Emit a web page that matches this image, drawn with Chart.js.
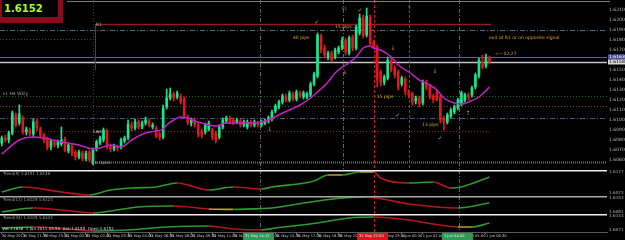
<!DOCTYPE html>
<html>
<head>
<meta charset="utf-8">
<title>GBPUSD M15</title>
<script src="https://cdn.jsdelivr.net/npm/chart.js@4.4.1/dist/chart.umd.min.js"></script>
<style>
  html, body { margin: 0; padding: 0; background: #000; }
  body { position: relative; width: 625px; height: 240px; overflow: hidden; }
  canvas { position: absolute; left: 0; }
  #quote { position: absolute; left: 0; top: 0; width: 63px; height: 23px; background: #8c0a1e; }
  #quote div { position: absolute; left: 2px; top: 0; width: 56px; height: 17px; background: #000;
               color: #a6ff1c; font: bold 10px "DejaVu Sans", sans-serif; line-height: 17px;
               padding-left: 2px; box-sizing: border-box; }
</style>
</head>
<body>
<canvas id="main" width="625" height="170" style="top:0"></canvas>
<canvas id="ind1" width="625" height="26" style="top:170px"></canvas>
<canvas id="ind2" width="625" height="18" style="top:196px"></canvas>
<canvas id="ind3" width="625" height="26" style="top:214px"></canvas>
<div id="quote"><div>1.6152</div></div>
<script>
// velas M15
const openP = [1.6077,1.6082,1.6080,1.6087,1.6105,1.6097,1.6102,1.6088,1.6090,1.6086,
  1.6099,1.6091,1.6085,1.6081,1.6073,1.6078,1.6075,1.6076,1.6081,1.6069,
  1.6074,1.6068,1.6063,1.6067,1.6061,1.6068,1.6059,1.6071,1.6077,1.6080,
  1.6089,1.6074,1.6071,1.6073,1.6073,1.6079,1.6082,1.6095,1.6092,1.6098,
  1.6093,1.6097,1.6099,1.6093,1.6092,1.6086,1.6083,1.6113,1.6122,1.6126,
  1.6123,1.6124,1.6121,1.6103,1.6097,1.6100,1.6095,1.6089,1.6088,1.6091,
  1.6090,1.6087,1.6083,1.6093,1.6099,1.6102,1.6100,1.6098,1.6099,1.6095,
  1.6093,1.6098,1.6095,1.6097,1.6095,1.6097,1.6099,1.6101,1.6109,1.6113,
  1.6118,1.6124,1.6120,1.6126,1.6121,1.6127,1.6123,1.6123,1.6125,1.6136,
  1.6144,1.6184,1.6172,1.6163,1.6167,1.6163,1.6168,1.6172,1.6180,1.6167,
  1.6183,1.6172,1.6187,1.6202,1.6185,1.6202,1.6178,1.6173,1.6148,1.6138,
  1.6142,1.6160,1.6152,1.6148,1.6136,1.6141,1.6128,1.6126,1.6119,1.6122,
  1.6117,1.6138,1.6134,1.6124,1.6128,1.6123,1.6102,1.6098,1.6104,1.6108,
  1.6112,1.6116,1.6120,1.6125,1.6125,1.6133,1.6144,1.6158,1.6154,1.6162];
const closeP = [1.6082,1.6080,1.6087,1.6107,1.6095,1.6106,1.6088,1.6091,1.6086,1.6098,
  1.6092,1.6085,1.6080,1.6072,1.6079,1.6075,1.6078,1.6080,1.6070,1.6075,
  1.6067,1.6063,1.6068,1.6061,1.6067,1.6060,1.6070,1.6078,1.6082,1.6090,
  1.6074,1.6071,1.6074,1.6072,1.6080,1.6082,1.6096,1.6092,1.6098,1.6093,
  1.6097,1.6100,1.6095,1.6095,1.6084,1.6083,1.6112,1.6122,1.6126,1.6122,
  1.6127,1.6118,1.6104,1.6097,1.6100,1.6095,1.6086,1.6085,1.6095,1.6097,
  1.6083,1.6080,1.6093,1.6100,1.6102,1.6098,1.6097,1.6100,1.6095,1.6098,
  1.6098,1.6095,1.6098,1.6095,1.6098,1.6099,1.6102,1.6108,1.6114,1.6118,
  1.6124,1.6120,1.6127,1.6121,1.6128,1.6124,1.6127,1.6126,1.6136,1.6146,
  1.6185,1.6170,1.6165,1.6167,1.6160,1.6170,1.6172,1.6180,1.6168,1.6182,
  1.6172,1.6193,1.6202,1.6184,1.6204,1.6177,1.6173,1.6140,1.6137,1.6143,
  1.6160,1.6150,1.6145,1.6133,1.6142,1.6128,1.6125,1.6118,1.6122,1.6116,
  1.6138,1.6133,1.6123,1.6120,1.6121,1.6100,1.6098,1.6105,1.6110,1.6113,
  1.6120,1.6127,1.6125,1.6123,1.6132,1.6145,1.6160,1.6153,1.6162,1.6158];
const highP = [1.6084,1.6085,1.6089,1.6109,1.6107,1.6115,1.6104,1.6093,1.6092,1.6101,
  1.6101,1.6093,1.6087,1.6083,1.6081,1.6080,1.6080,1.6093,1.6083,1.6077,
  1.6076,1.6070,1.6070,1.6069,1.6069,1.6070,1.6072,1.6080,1.6084,1.6092,
  1.6091,1.6076,1.6076,1.6075,1.6082,1.6084,1.6100,1.6098,1.6101,1.6100,
  1.6099,1.6103,1.6101,1.6097,1.6094,1.6088,1.6115,1.6131,1.6132,1.6128,
  1.6129,1.6126,1.6123,1.6105,1.6102,1.6102,1.6097,1.6091,1.6097,1.6099,
  1.6092,1.6089,1.6095,1.6102,1.6104,1.6104,1.6102,1.6102,1.6101,1.6100,
  1.6100,1.6100,1.6100,1.6099,1.6100,1.6101,1.6104,1.6110,1.6116,1.6120,
  1.6126,1.6126,1.6129,1.6128,1.6130,1.6129,1.6129,1.6128,1.6138,1.6148,
  1.6187,1.6186,1.6175,1.6169,1.6169,1.6172,1.6174,1.6183,1.6182,1.6184,
  1.6185,1.6195,1.6206,1.6205,1.6212,1.6205,1.6180,1.6175,1.6150,1.6145,
  1.6163,1.6162,1.6154,1.6150,1.6144,1.6143,1.6130,1.6128,1.6124,1.6124,
  1.6140,1.6140,1.6136,1.6126,1.6130,1.6125,1.6104,1.6107,1.6112,1.6115,
  1.6122,1.6129,1.6127,1.6127,1.6134,1.6147,1.6162,1.6165,1.6166,1.6164];
const lowP = [1.6074,1.6078,1.6077,1.6085,1.6093,1.6095,1.6086,1.6085,1.6084,1.6083,
  1.6089,1.6083,1.6077,1.6070,1.6070,1.6073,1.6072,1.6074,1.6068,1.6067,
  1.6064,1.6060,1.6061,1.6059,1.6059,1.6058,1.6055,1.6069,1.6075,1.6078,
  1.6071,1.6068,1.6069,1.6069,1.6071,1.6077,1.6080,1.6089,1.6090,1.6091,
  1.6091,1.6095,1.6093,1.6091,1.6082,1.6080,1.6081,1.6111,1.6120,1.6119,
  1.6121,1.6116,1.6102,1.6095,1.6094,1.6093,1.6083,1.6082,1.6086,1.6089,
  1.6080,1.6077,1.6081,1.6091,1.6097,1.6096,1.6095,1.6096,1.6093,1.6093,
  1.6091,1.6093,1.6093,1.6093,1.6093,1.6095,1.6097,1.6099,1.6107,1.6111,
  1.6116,1.6118,1.6118,1.6119,1.6119,1.6122,1.6121,1.6121,1.6123,1.6134,
  1.6142,1.6167,1.6162,1.6160,1.6158,1.6161,1.6166,1.6170,1.6165,1.6165,
  1.6169,1.6170,1.6185,1.6182,1.6183,1.6175,1.6171,1.6133,1.6134,1.6135,
  1.6140,1.6148,1.6142,1.6130,1.6134,1.6125,1.6122,1.6115,1.6116,1.6113,
  1.6115,1.6130,1.6121,1.6117,1.6119,1.6097,1.6090,1.6096,1.6102,1.6106,
  1.6110,1.6114,1.6118,1.6120,1.6123,1.6131,1.6142,1.6151,1.6152,1.6156];

const maIdx = [0,5,9,12,17,22,26,28,31,34,37,41,44,46,47,49,51,53,55,57,61,64,72,76,
  80,85,88,90,93,95,98,101,103,105,106,108,111,113,116,119,122,124,126,129,131,133,136,139];
const maVal = [1.6066,1.6080,1.6083,1.6082,1.6078,1.6075,1.6071,1.6072,1.6075,1.6073,1.6080,1.6087,
  1.6089,1.6091,1.6095,1.6100,1.6103,1.6102,1.6099,1.6097,1.6094,1.6097,1.6097,1.6100,
  1.6107,1.6115,1.6122,1.6128,1.6138,1.6147,1.6155,1.6163,1.6172,1.6174,1.6172,1.6170,
  1.6163,1.6155,1.6148,1.6140,1.6135,1.6130,1.6122,1.6117,1.6116,1.6118,1.6123,1.6133];

// indicadores de abajo
const ind1Idx = [0,6,17,25,31,37,44,50,53,59,66,74,77,89,93,97,102,106,108,116,123,128,131,139];
const ind1Val = [1.6077,1.6102,1.6077,1.6062,1.6087,1.6097,1.6102,1.6122,1.6112,1.6087,1.6102,1.6092,
  1.6102,1.6132,1.6162,1.6162,1.6177,1.6177,1.6147,1.6122,1.6127,1.6097,1.6102,1.6152];
const ind2Idx = [0,9,17,26,31,39,49,59,66,74,77,88,97,104,110,116,124,130,139];
const ind2Val = [1.6080,1.6100,1.6090,1.6075,1.6085,1.6105,1.6110,1.6095,1.6093,1.6097,1.6100,
  1.6130,1.6150,1.6155,1.6140,1.6120,1.6105,1.6100,1.6125];
const ind3Idx = [0,9,19,26,36,47,59,66,74,78,90,99,106,116,123,130,134,139];
const ind3Val = [1.6080,1.6085,1.6075,1.6065,1.6070,1.6085,1.6090,1.6075,1.6070,1.6080,1.6105,
  1.6130,1.6135,1.6120,1.6100,1.6085,1.6085,1.6105];

const timeLabels = ['30 May 2011','30 May 21:30','30 May 23:00','31 May 00:30','31 May 02:00','31 May 03:30',
  '31 May 05:00','31 May 06:30','31 May 08:00','31 May 09:30','31 May 11:00','31 May 12:30',
  '31 May 14:00','31 May 15:30','31 May 17:00','31 May 18:30','31 May 20:00','31 May 21:30',
  '31 May 23:00','1 Jun 00:30','1 Jun 02:00','1 Jun 03:30','1 Jun 05:00','1 Jun 06:30'];

const N_SLOTS = 173;
const nCandles = openP.length;
const slotLabels = Array.from({ length: N_SLOTS }, (_, k) => String(k));

// puntos sueltos -> {x: etiqueta de vela, y: valor}
function points(idx, val) {
    return idx.map((k, j) => ({ x: slotLabels[k], y: val[j] }));
}

Chart.defaults.font.family = '"DejaVu Sans", sans-serif';
Chart.defaults.animation = false;

const UP = '#19e68c', DOWN = '#e3161b';
const candleColors = openP.map((o, k) => closeP[k] >= o ? UP : DOWN);

function fitRight(s) { s.width = 18; s.paddingTop = 0; s.paddingBottom = 0; }

// lineas de referencia (precio / indice de vela)
const vAll = [
    { at: 73.6, color: '#56686a', dash: [4, 2, 1, 2] },
    { at: 106.1, color: '#c01a1a', dash: [3, 2] },
    { at: 130.3, color: '#56686a', dash: [4, 2, 1, 2] }
];
const vMain = [
    { at: 26, color: '#7c2020', dash: [1, 2] },
    { at: 26.6, from: 1.6196, to: 1.6150, color: '#b01515' },
    { at: 97.3, color: '#56686a', dash: [4, 2, 1, 2] },
    { at: 116.1, color: '#3c5a78', dash: [3, 2] }
];
const hMain = [
    { at: 1.6196, from: 26.6, to: 139.5, color: '#8e1b1b', w: 1.5 },
    { at: 1.6190, color: '#4d6a88', dash: [5, 2, 1, 2] },
    { at: 1.6181, from: -0.5, to: 26, color: '#7c2020', dash: [1, 2] },
    { at: 1.6163, color: '#5e5e96' },
    { at: 1.6158, color: '#c4c4c4', w: 1.5 },
    { at: 1.6124, color: '#1e6a1e', dash: [1, 2] },
    { at: 1.6114, color: '#744522', dash: [1, 2] },
    { at: 1.6102, color: '#3a5d88', dash: [5, 2, 1, 2] },
    { at: 1.6089, from: -0.5, to: 139.5, color: '#7c2020', dash: [1, 2] },
    { at: 1.6058, from: 26, color: '#6c6c6c', dash: [1, 1], w: 2 }
];

function linesPlugin(hs, vs) {
    return {
        id: 'lines',
        beforeDatasetsDraw(chart) {
            const { ctx, chartArea: a, scales: { x, y } } = chart;
            ctx.save();
            hs.forEach(l => {
                const py = Math.round(y.getPixelForValue(l.at)) + 0.5;
                const x0 = l.from == null ? a.left : x.getPixelForValue(l.from);
                const x1 = l.to == null ? a.right : x.getPixelForValue(l.to);
                ctx.strokeStyle = l.color; ctx.lineWidth = l.w || 1; ctx.setLineDash(l.dash || []);
                ctx.beginPath(); ctx.moveTo(x0, py); ctx.lineTo(x1, py); ctx.stroke();
            });
            vs.forEach(l => {
                const px = Math.round(x.getPixelForValue(l.at)) + 0.5;
                const y0 = l.from == null ? a.top : y.getPixelForValue(l.from);
                const y1 = l.to == null ? a.bottom : y.getPixelForValue(l.to);
                ctx.strokeStyle = l.color; ctx.lineWidth = l.w || 1; ctx.setLineDash(l.dash || []);
                ctx.beginPath(); ctx.moveTo(px, y0); ctx.lineTo(px, y1); ctx.stroke();
            });
            ctx.restore();
        }
    };
}

const notes = [
    { t: '40 pips', i: 83.0, p: 1.6182, c: '#d9a232' },
    { t: '15 pips', i: 95.0, p: 1.6193, c: '#d9a232' },
    { t: '15 pips', i: 106.9, p: 1.6123, c: '#d9a232' },
    { t: '13 pips', i: 119.8, p: 1.6095, c: '#d9a232' },
    { t: 'exit at R1 or on opposite signal', i: 138.9, p: 1.6182, c: '#d9a232' },
    { t: '<-- 02:27', i: 140.6, p: 1.6166, c: '#d9a232' },
    { t: 'R1', i: 26.8, p: 1.6195, c: '#a8a8a8' },
    { t: 's1 H4 Wkly', i: 0.3, p: 1.6126, c: '#9a9a9a' },
    { t: 'Lws', i: 26.1, p: 1.6088, c: '#e0e0e0' },
    { t: 'Fib Open', i: 25.4, p: 1.6057, c: '#a0a0a0' },
    { t: 'S1', i: 96.8, p: 1.6211, c: '#6a8aa0' },
    { t: '5', i: 115.8, p: 1.6212, c: '#5a7a9a' }
];
const marks = [
    { t: '✓', i: 89.8, p: 1.6198 }, { t: '✓', i: 102.1, p: 1.6210 },
    { t: '✓', i: 112.9, p: 1.6105 }, { t: '✓', i: 124.9, p: 1.6082 },
    { t: '↓', i: 97.8, p: 1.6148 }, { t: '↓', i: 111.5, p: 1.6172 },
    { t: '↓', i: 123.5, p: 1.6149 }, { t: '↓', i: 76.4, p: 1.6091 },
    { t: '↑', i: 132.9, p: 1.6107 }
];

const mainDeco = {
    id: 'mainDeco',
    afterDatasetsDraw(chart) {
        const { ctx, chartArea: a, scales: { x, y } } = chart;
        ctx.save();
        ctx.textBaseline = 'middle';
        ctx.font = '4.5px "DejaVu Sans"';
        ctx.textAlign = 'left';
        notes.forEach(n => { ctx.fillStyle = n.c; ctx.fillText(n.t, x.getPixelForValue(n.i), y.getPixelForValue(n.p)); });
        ctx.font = '6px "DejaVu Sans"';
        ctx.textAlign = 'center';
        ctx.fillStyle = '#d09636';
        marks.forEach(m => ctx.fillText(m.t, x.getPixelForValue(m.i), y.getPixelForValue(m.p)));
        // marco superior
        ctx.strokeStyle = '#7a7a7a'; ctx.lineWidth = 1;
        ctx.beginPath(); ctx.moveTo(67, 1.5); ctx.lineTo(a.right + 3, 1.5); ctx.stroke();
        // etiquetas bid / ask en el eje
        [[1.6163, '#50509e', '#ffffff'], [1.6158, '#d8d8d8', '#000000']].forEach(([p, bg, fg]) => {
            const py = y.getPixelForValue(p);
            ctx.fillStyle = bg; ctx.fillRect(a.right + 1, py - 2.5, 17, 5);
            ctx.fillStyle = fg; ctx.font = '4.5px "DejaVu Sans"'; ctx.textAlign = 'left';
            ctx.fillText(p.toFixed(4), a.right + 2, py);
        });
        ctx.restore();
    }
};

new Chart(document.getElementById('main'), {
    type: 'bar',
    data: {
        labels: slotLabels,
        datasets: [
            {
                type: 'line', data: points(maIdx, maVal), borderColor: '#c41fc4', borderWidth: 1.5,
                pointRadius: 0, cubicInterpolationMode: 'monotone', order: 0
            },
            {
                data: openP.map((o, k) => [o, closeP[k]]), backgroundColor: candleColors,
                barThickness: 2, minBarLength: 1, grouped: false, borderWidth: 0, order: 1
            },
            {
                data: lowP.map((l, k) => [l, highP[k]]), backgroundColor: candleColors,
                barThickness: 1, grouped: false, borderWidth: 0, order: 2
            }
        ]
    },
    options: {
        responsive: false, devicePixelRatio: 1, events: [],
        layout: { padding: 0, autoPadding: false },
        plugins: { legend: { display: false }, tooltip: { enabled: false } },
        scales: {
            x: { display: false, offset: true, grid: { display: false } },
            y: {
                position: 'right', min: 1.6050, max: 1.6220, afterFit: fitRight,
                grid: { display: false, drawTicks: false }, border: { display: false },
                ticks: {
                    stepSize: 0.001, autoSkip: false, padding: 2, color: '#b8b8b8', font: { size: 4.5 },
                    callback: v => (v < 1.6055 || v > 1.6215) ? '' : v.toFixed(4)
                }
            }
        }
    },
    plugins: [linesPlugin(hMain, vAll.concat(vMain)), mainDeco]
});

const trendColor = tol => c => {
    const d = c.p1.parsed.y - c.p0.parsed.y;
    return Math.abs(d) < tol ? '#b8a22c' : (d > 0 ? '#2c9a2c' : '#b31818');
};

function panelDeco(title, sepColor) {
    return {
        id: 'panelDeco',
        afterDraw(chart) {
            const { ctx, chartArea: a } = chart;
            ctx.save();
            ctx.strokeStyle = sepColor; ctx.lineWidth = 1.5;
            ctx.beginPath(); ctx.moveTo(0, a.top + 0.75); ctx.lineTo(a.right, a.top + 0.75); ctx.stroke();
            ctx.fillStyle = '#9c9c9c'; ctx.font = '4px "DejaVu Sans"'; ctx.textBaseline = 'middle';
            ctx.fillText(title, 3, a.top + 4);
            ctx.restore();
        }
    };
}

const timeBoxes = [
    { at: 73.6, t: '31 May 14:15', bg: '#2f9a58' },
    { at: 106.1, t: '31 May 22:00', bg: '#e0121c' },
    { at: 130.3, t: '1 Jun 04:00', bg: '#2f9a58' }
];
const timeDeco = {
    id: 'timeDeco',
    afterDraw(chart) {
        const { ctx, chartArea: a, scales: { x } } = chart;
        ctx.save();
        ctx.font = '3.6px "DejaVu Sans"'; ctx.textBaseline = 'middle';
        timeBoxes.forEach(b => {
            const px = x.getPixelForValue(b.at);
            ctx.fillStyle = b.bg; ctx.fillRect(px - 17, a.bottom + 1, 31, 7);
            ctx.fillStyle = '#e8e8e8'; ctx.fillText(b.t, px - 15, a.bottom + 4.5);
        });
        ctx.fillStyle = '#d8d8d8'; ctx.font = '4px "DejaVu Sans"';
        ctx.fillText('Vol: 11636  1 Jun 2011 05:50  Ask:1.6155  Open:1.6152', 2, a.bottom - 3);
        ctx.restore();
    }
};

function indicatorChart(id, idx, val, lo, hi, title, sepColor, withTime) {
    const range = hi - lo;
    return new Chart(document.getElementById(id), {
        type: 'line',
        data: {
            labels: slotLabels,
            datasets: [{
                data: points(idx, val), borderColor: '#2c9a2c', borderWidth: 1.6, pointRadius: 0,
                cubicInterpolationMode: 'monotone',
                segment: { borderColor: trendColor(range * 0.025) }
            }]
        },
        options: {
            responsive: false, devicePixelRatio: 1, events: [],
            layout: { padding: 0, autoPadding: false },
            plugins: { legend: { display: false }, tooltip: { enabled: false } },
            scales: {
                x: withTime ? {
                    display: true, offset: true,
                    afterFit: s => { s.height = 8; s.paddingLeft = 0; s.paddingRight = 0; },
                    grid: {
                        display: true, drawOnChartArea: false, tickLength: 2, offset: false,
                        color: c => (c.index % 6 === 0 && c.index < nCandles) ? '#8a8a8a' : 'rgba(0,0,0,0)'
                    },
                    border: { display: true, color: '#5a5a5a' },
                    ticks: {
                        autoSkip: false, maxRotation: 0, minRotation: 0, align: 'start', padding: 0,
                        color: '#c8c8c8', font: { size: 3.6 },
                        callback: (v, k) => (k % 6 === 0 && k < nCandles) ? timeLabels[k / 6] : ''
                    }
                } : { display: false, offset: true },
                y: {
                    position: 'right', min: lo, max: hi, afterFit: fitRight,
                    afterBuildTicks: s => { s.ticks = [{ value: hi - range * 0.08 }, { value: lo + range * 0.12 }]; },
                    grid: { display: false, drawTicks: false }, border: { display: false },
                    ticks: { padding: 2, color: '#b0b0b0', font: { size: 4.2 }, callback: v => v.toFixed(4) }
                }
            }
        },
        plugins: [linesPlugin([], vAll), panelDeco(title, sepColor)].concat(withTime ? [timeDeco] : [])
    });
}

indicatorChart('ind1', ind1Idx, ind1Val, 1.6057, 1.6187, 'Trend(5) 1.6151 1.6148', '#eeeeee', false);
indicatorChart('ind2', ind2Idx, ind2Val, 1.6070, 1.6160, 'Trend(13) 1.6125 1.6123', '#a8a8a8', false);
indicatorChart('ind3', ind3Idx, ind3Val, 1.6060, 1.6150, 'Trend(34) 1.6105 1.6104', '#eeeeee', true);
</script>
</body>
</html>
